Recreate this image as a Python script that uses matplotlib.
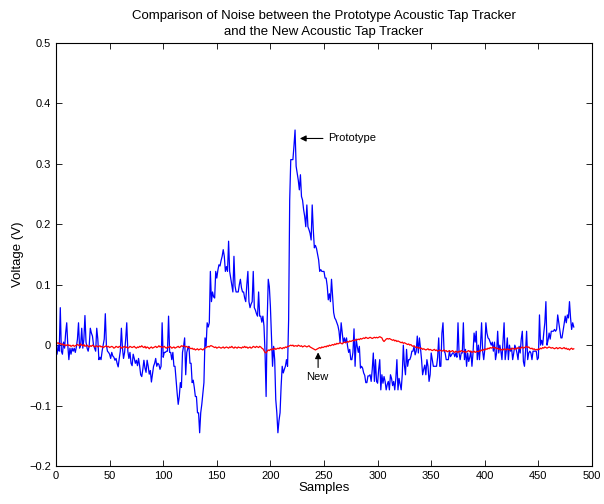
import numpy as np
import matplotlib
matplotlib.use("Agg")
import matplotlib.pyplot as plt

plt.rcParams['font.family'] = ['Liberation Sans', 'DejaVu Sans']

title = "Comparison of Noise between the Prototype Acoustic Tap Tracker\nand the New Acoustic Tap Tracker"
xlabel = "Samples"
ylabel = "Voltage (V)"

# Prototype tracker output, millivolts, one value per sample
prototype_mV = [
    -10, -15, 0, -10, 62, -10, -15, 5, -5, 20, 37, 0, -24, -5, -15, -5, -10, -5, -12, -3,
    10, 37, -5, 0, 28, -5, 10, 49, 5, -5, -10, 0, 28, 20, 15, 0, -5, -10, 28, 10,
    -24, -20, -24, -10, 0, 10, 52, 0, -10, -12, -15, -22, -12, -18, -20, -25, -22, -30, -36, -22,
    -10, 28, -5, -22, -12, 10, 37, -10, -22, -12, -30, -34, -15, -22, -30, -25, -34, -22, -34, -49,
    -52, -40, -25, -38, -45, -25, -35, -48, -42, -61, -48, -35, -30, -22, -35, -30, -32, -40, -35, 37,
    -20, -12, -12, -10, -10, 48, -12, -12, -24, -12, -35, -35, -57, -79, -98, -85, -62, -70, -12, -2,
    12, -49, -12, -5, -2, -30, -30, -62, -58, -70, -85, -85, -112, -112, -145, -112, -98, -80, -62, 12,
    -2, 37, 30, 37, 122, 72, 88, 80, 78, 122, 111, 124, 133, 131, 140, 147, 158, 147, 122, 130,
    122, 172, 122, 111, 100, 88, 147, 98, 88, 88, 88, 100, 109, 95, 88, 88, 78, 72, 100, 122,
    72, 62, 68, 72, 122, 62, 58, 52, 48, 88, 48, 48, 38, 48, 32, -12, -85, 40, 109, 97,
    64, 15, -35, -2, -24, -90, -112, -145, -125, -112, -68, -35, -46, -40, -35, -24, -35, 42, 240, 307,
    307, 307, 330, 356, 296, 285, 273, 257, 282, 246, 240, 224, 213, 196, 232, 196, 191, 185, 174, 232,
    191, 161, 165, 160, 150, 141, 122, 125, 122, 122, 122, 111, 111, 98, 75, 85, 72, 109, 80, 54,
    45, 42, 37, 32, 23, 4, 37, 20, 4, 12, 4, 12, -2, -12, -7, -24, -24, -12, 27, -35,
    10, -2, -12, -2, -38, -35, -38, -46, -50, -62, -62, -51, -51, -49, -60, -40, -13, -60, -24, -60,
    -63, -40, -24, -74, -49, -63, -52, -60, -74, -65, -60, -74, -49, -55, -67, -60, -74, -55, -24, -74,
    -55, -65, -74, -49, 0, -33, -49, -7, -35, -24, -24, -19, -10, -10, -2, -16, -10, 15, -13, 12,
    -5, -24, -49, -40, -33, -49, -24, -35, -60, -49, -13, -24, -35, -35, -35, -35, -20, 12, -35, -35,
    20, 37, -10, -13, -24, -24, -24, -10, -19, -16, -13, -13, -19, -13, -20, 37, -13, -24, -13, -13,
    37, -24, -7, -35, -13, -27, -20, -10, -35, -13, 20, 5, 23, -24, 0, -24, 0, 37, -10, -24,
    -7, 37, 20, 12, 10, 5, 0, 5, -10, 5, -24, -13, 23, -13, 0, -10, -24, 5, 37, -24,
    -10, 12, -24, 0, -10, -5, -24, -13, 0, -5, -13, -24, -2, -13, 10, 23, -27, -35, -10, 23,
    -24, -13, -10, -13, -24, -10, -10, -10, -10, -24, -21, 50, 0, 8, 0, 20, 37, 72, 0, 8,
    20, 10, 23, 23, 23, 26, 23, 26, 50, 37, 23, 12, 12, 23, 35, 48, 37, 50, 45, 72,
    45, 26, 37, 30,
]

# New tracker output, millivolts, one value per sample
new_mV = [
    5, 3, 4, 2, 3, 1, 2, 0, 1, -1, 0, 1, -1, 0, -2, -1, 0, -2, -1, 0,
    1, 0, -1, 2, 0, -1, 1, -2, -1, 0, -2, -3, -1, -2, 0, -1, -3, -2, -1, -3,
    -2, -1, -3, -2, -4, -3, -2, -1, -3, -2, -4, -3, -2, -3, -5, -4, -2, -3, -4, -2,
    -3, -5, -4, -3, -2, -4, -3, -5, -4, -2, -3, -4, -3, -2, -4, -5, -3, -4, -2, -3,
    -1, -3, -4, -2, -5, -3, -4, -6, -4, -3, -5, -4, -3, -2, -4, -3, -1, -3, -2, -4,
    -3, -2, -4, -5, -3, -4, -2, -3, -5, -4, -3, -5, -4, -3, -2, -4, -3, -1, -2, -1,
    -2, -3, -2, -4, -3, -5, -6, -5, -7, -6, -8, -7, -6, -8, -7, -6, -7, -8, -6, -5,
    -4, -3, -2, -3, -1, -1, -2, -3, -4, -3, -5, -4, -3, -4, -5, -4, -3, -5, -4, -3,
    -4, -5, -3, -4, -2, -4, -5, -3, -4, -5, -3, -4, -4, -5, -3, -4, -2, -4, -3, -5,
    -4, -3, -5, -4, -2, -3, -4, -2, -3, -4, -2, -3, -5, -6, -9, -12, -13, -10, -8, -9,
    -7, -8, -6, -7, -5, -7, -6, -5, -6, -4, -5, -6, -4, -5, -3, -4, -2, -2, -1, 0,
    -1, 0, -2, -1, -1, -2, 0, -1, -2, -1, -3, -2, -1, -2, -3, -2, -1, -3, -4, -5,
    -6, -7, -8, -7, -6, -5, -4, -5, -3, -4, -3, -2, -3, -1, -2, 0, -1, 0, 1, 0,
    2, 1, 3, 2, 3, 4, 3, 2, 4, 5, 4, 5, 6, 5, 7, 6, 7, 8, 7, 9,
    8, 9, 10, 9, 11, 10, 11, 12, 11, 13, 12, 11, 12, 13, 12, 11, 12, 13, 12, 13,
    12, 13, 14, 13, 12, 8, 6, 8, 10, 11, 10, 11, 10, 9, 8, 9, 7, 8, 6, 7,
    6, 5, 4, 5, 3, 4, 3, 2, 1, 2, 0, 1, -1, -2, -1, -3, -4, -3, -5, -4,
    -6, -5, -7, -6, -7, -8, -7, -6, -8, -7, -8, -9, -8, -7, -9, -8, -10, -9, -8, -9,
    -10, -9, -8, -10, -9, -11, -10, -9, -11, -10, -9, -11, -12, -10, -11, -12, -10, -11, -9, -10,
    -11, -10, -12, -11, -10, -9, -11, -10, -12, -11, -10, -12, -11, -10, -11, -9, -10, -8, -9, -7,
    -8, -6, -7, -5, -6, -4, -5, -4, -3, -5, -4, -6, -5, -7, -6, -8, -7, -8, -6, -7,
    -8, -6, -7, -8, -6, -7, -5, -6, -7, -5, -6, -4, -5, -6, -4, -3, -5, -4, -3, -2,
    -4, -3, -5, -6, -5, -7, -6, -8, -7, -8, -6, -7, -5, -6, -4, -5, -3, -4, -5, -4,
    -3, -4, -5, -4, -5, -6, -5, -4, -6, -5, -4, -5, -6, -5, -4, -6, -5, -7, -6, -8,
    -6, -5, -7, -6,
]

x_ticks = [0, 50, 100, 150, 200, 250, 300, 350, 400, 450, 500]
y_ticks = [-0.2, -0.1, 0, 0.1, 0.2, 0.3, 0.4, 0.5]
y_ticklabels = ["\u22120.2", "\u22120.1", "0", "0.1", "0.2", "0.3", "0.4", "0.5"]

proto = np.array(prototype_mV) / 1000.0
new = np.array(new_mV) / 1000.0
s_proto = np.arange(len(proto))
s_new = np.arange(len(new))

fig = plt.figure(figsize=(6.04, 5.04), dpi=100)
ax = fig.add_axes([56 / 604, 38 / 504, 536 / 604, 423 / 504])

ax.plot(s_proto, proto, color='#0000ff', lw=0.9)
ax.plot(s_new, new, color='#ff0000', lw=0.9)

ax.set_xlim(0, 500)
ax.set_ylim(-0.2, 0.5)
ax.set_xticks(x_ticks)
ax.set_yticks(y_ticks)
ax.set_yticklabels(y_ticklabels)
ax.tick_params(direction='in', top=True, right=True, labelsize=8, length=4, width=0.6)
for sp in ax.spines.values():
    sp.set_linewidth(0.8)

ax.set_title(title, fontsize=9.5, pad=6, linespacing=1.4)
ax.set_xlabel(xlabel, fontsize=9.5, labelpad=1)
ax.set_ylabel(ylabel, fontsize=9.5, labelpad=4)

arrow = dict(arrowstyle='-|>', color='k', lw=0.8, mutation_scale=9, shrinkA=0, shrinkB=0)
ax.annotate('', xy=(227.5, 0.342), xytext=(249, 0.342), arrowprops=arrow)
ax.text(254, 0.342, 'Prototype', fontsize=8, va='center', ha='left')
ax.annotate('', xy=(244.5, -0.012), xytext=(244.5, -0.037), arrowprops=arrow)
ax.text(243.5, -0.053, 'New', fontsize=8, va='center', ha='center')

fig.savefig('out.png', dpi=100)
